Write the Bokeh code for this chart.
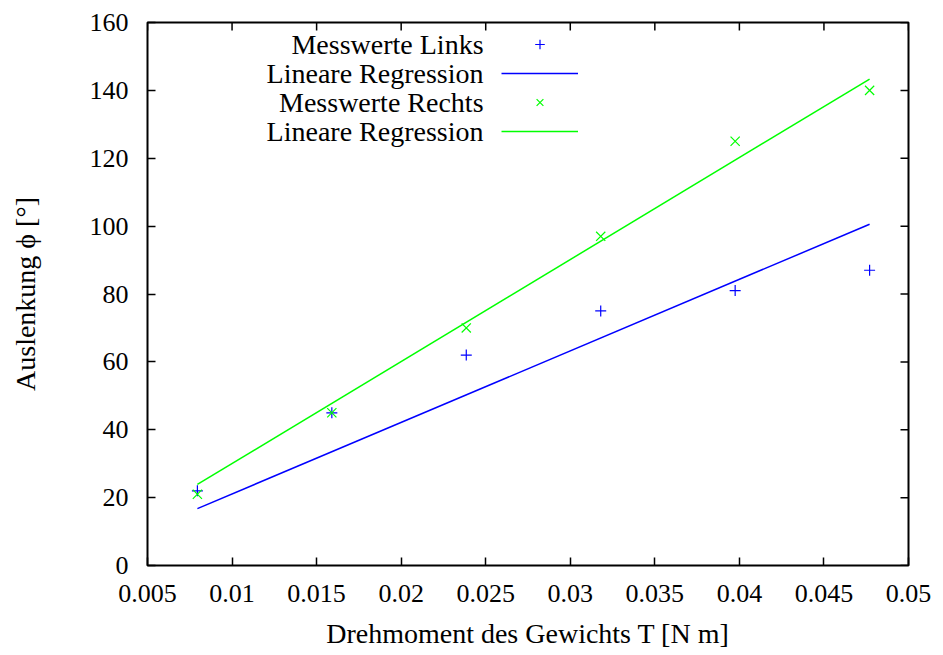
import numpy as np
from bokeh.plotting import figure
from bokeh.models import Range1d, FixedTicker, Legend, LegendItem, Label
from bokeh.embed import file_html
from bokeh.resources import INLINE

# ---- data ----
torque = [0.00795, 0.0159, 0.02385, 0.0318, 0.03975, 0.0477]   # T [N m]
phi_links = [22, 45, 62, 75, 81, 87]                            # deg
phi_rechts = [21, 45, 70, 97, 125, 140]                         # deg

x_ticks = [0.005, 0.01, 0.015, 0.02, 0.025, 0.03, 0.035, 0.04, 0.045, 0.05]
x_tick_labels = ["0.005", "0.01", "0.015", "0.02", "0.025", "0.03", "0.035", "0.04", "0.045", "0.05"]
y_ticks = [0, 20, 40, 60, 80, 100, 120, 140, 160]
y_tick_labels = ["0", "20", "40", "60", "80", "100", "120", "140", "160"]

legend_labels = ["Messwerte Links", "Lineare Regression", "Messwerte Rechts", "Lineare Regression"]

# linear regression through the origin (phi = k * T), fitted to the data
t = np.array(torque)
k_links = float(np.sum(t * np.array(phi_links)) / np.sum(t * t))
k_rechts = float(np.sum(t * np.array(phi_rechts)) / np.sum(t * t))
fit_x = [torque[0], torque[-1]]
fit_links = [k_links * v for v in fit_x]
fit_rechts = [k_rechts * v for v in fit_x]

BLUE = "#0000ff"
GREEN = "#00ff00"
FONT = "Liberation Serif"

X0, X1, Y0, Y1 = 0.005, 0.05, 0, 160

p = figure(width=943, height=655, output_backend="svg", toolbar_location=None,
           x_range=Range1d(X0, X1), y_range=Range1d(Y0, Y1),
           min_border_left=147, min_border_right=35, min_border_top=22, min_border_bottom=90)
p.xgrid.visible = False
p.ygrid.visible = False
p.outline_line_color = "black"
p.outline_line_width = 2
p.background_fill_color = "white"
p.border_fill_color = "white"

def style_axis(ax, ticks, labels):
    ax.ticker = FixedTicker(ticks=ticks)
    ax.major_label_overrides = {tk: lb for tk, lb in zip(ticks, labels)}
    ax.axis_line_color = None
    ax.major_tick_in = 8
    ax.major_tick_out = 0
    ax.major_tick_line_width = 1.5
    ax.major_tick_line_color = "black"
    ax.minor_tick_line_color = None
    ax.major_label_text_font = FONT
    ax.major_label_text_color = "black"
    ax.major_label_text_font_size = "26px"

xa = p.xaxis[0]
style_axis(xa, x_ticks, x_tick_labels)
xa.major_label_standoff = 19
xa.axis_label = "Drehmoment des Gewichts T [N m]"
xa.axis_label_text_font = FONT
xa.axis_label_text_font_size = "28px"
xa.axis_label_text_font_style = "normal"
xa.axis_label_text_color = "black"
xa.axis_label_standoff = 13

ya = p.yaxis[0]
style_axis(ya, y_ticks, y_tick_labels)
ya.major_label_standoff = 19
ya.axis_label = "Auslenkung ϕ [°]"
ya.axis_label_text_font = FONT
ya.axis_label_text_font_size = "28px"
ya.axis_label_text_font_style = "normal"
ya.axis_label_text_color = "black"
ya.axis_label_standoff = 46

# mirrored tick marks on the top and right frame edges (half of each dash is clipped by the frame)
p.scatter(x_ticks, [Y1] * len(x_ticks), marker="dash", angle=np.pi / 2, size=16,
          line_color="black", line_width=1.5)
p.scatter([X1] * len(y_ticks), y_ticks, marker="dash", angle=0, size=16,
          line_color="black", line_width=1.5)

r_pl = p.scatter(torque, phi_links, marker="cross", size=11, line_color=BLUE, line_width=1.2)
r_fl = p.line(fit_x, fit_links, line_color=BLUE, line_width=1.5)
r_pr = p.scatter(torque, phi_rechts, marker="x", size=13, line_color=GREEN, line_width=1.2)
r_fr = p.line(fit_x, fit_rechts, line_color=GREEN, line_width=1.5)

legend = Legend(items=[LegendItem(label=" ", renderers=[r]) for r in (r_pl, r_fl, r_pr, r_fr)],
                location=(354, 422), glyph_width=77, glyph_height=24, spacing=5,
                padding=0, margin=0, label_standoff=0, label_width=0, label_height=24,
                border_line_alpha=0, background_fill_alpha=0,
                label_text_font_size="10px")
p.add_layout(legend, "center")

# legend texts (right-aligned, left of the samples)
legend_text_x = 0.02487
legend_text_y = [153.5, 145.0, 136.4, 127.9]
for lb, yy in zip(legend_labels, legend_text_y):
    p.add_layout(Label(x=legend_text_x, y=yy, text=lb, text_align="right", text_baseline="middle",
                       text_font=FONT, text_font_size="28px", text_color="black"))

with open("out.html", "w") as f:
    f.write(file_html(p, INLINE))
